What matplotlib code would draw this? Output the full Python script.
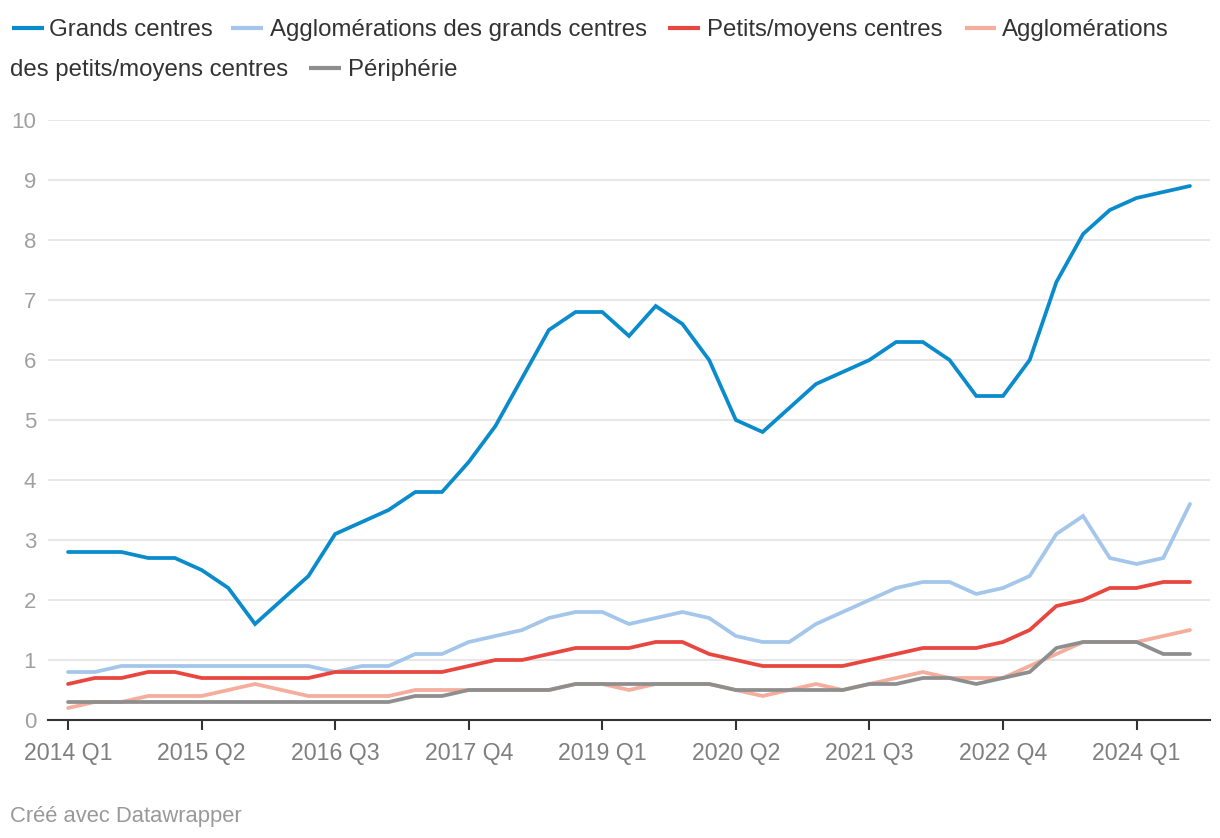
#!/usr/bin/env python3
"""
Line chart: quarterly shares by commune type (Datawrapper style), 2014 Q1 - 2024 Q3.
"""

import matplotlib
matplotlib.use('Agg')
import matplotlib.pyplot as plt
from matplotlib.lines import Line2D

plt.rcParams['font.family'] = ['Liberation Sans', 'DejaVu Sans']

# data, one value per quarter starting 2014 Q1
grands_centres = [2.8, 2.8, 2.8, 2.7, 2.7, 2.5, 2.2, 1.6, 2.0, 2.4, 3.1, 3.3, 3.5, 3.8, 3.8,
                  4.3, 4.9, 5.7, 6.5, 6.8, 6.8, 6.4, 6.9, 6.6, 6.0, 5.0, 4.8, 5.2, 5.6, 5.8,
                  6.0, 6.3, 6.3, 6.0, 5.4, 5.4, 6.0, 7.3, 8.1, 8.5, 8.7, 8.8, 8.9]
agglo_grands = [0.8, 0.8, 0.9, 0.9, 0.9, 0.9, 0.9, 0.9, 0.9, 0.9, 0.8, 0.9, 0.9, 1.1, 1.1,
                1.3, 1.4, 1.5, 1.7, 1.8, 1.8, 1.6, 1.7, 1.8, 1.7, 1.4, 1.3, 1.3, 1.6, 1.8,
                2.0, 2.2, 2.3, 2.3, 2.1, 2.2, 2.4, 3.1, 3.4, 2.7, 2.6, 2.7, 3.6]
petits_moyens = [0.6, 0.7, 0.7, 0.8, 0.8, 0.7, 0.7, 0.7, 0.7, 0.7, 0.8, 0.8, 0.8, 0.8, 0.8,
                 0.9, 1.0, 1.0, 1.1, 1.2, 1.2, 1.2, 1.3, 1.3, 1.1, 1.0, 0.9, 0.9, 0.9, 0.9,
                 1.0, 1.1, 1.2, 1.2, 1.2, 1.3, 1.5, 1.9, 2.0, 2.2, 2.2, 2.3, 2.3]
agglo_petits = [0.2, 0.3, 0.3, 0.4, 0.4, 0.4, 0.5, 0.6, 0.5, 0.4, 0.4, 0.4, 0.4, 0.5, 0.5,
                0.5, 0.5, 0.5, 0.5, 0.6, 0.6, 0.5, 0.6, 0.6, 0.6, 0.5, 0.4, 0.5, 0.6, 0.5,
                0.6, 0.7, 0.8, 0.7, 0.7, 0.7, 0.9, 1.1, 1.3, 1.3, 1.3, 1.4, 1.5]
peripherie = [0.3, 0.3, 0.3, 0.3, 0.3, 0.3, 0.3, 0.3, 0.3, 0.3, 0.3, 0.3, 0.3, 0.4, 0.4,
              0.5, 0.5, 0.5, 0.5, 0.6, 0.6, 0.6, 0.6, 0.6, 0.6, 0.5, 0.5, 0.5, 0.5, 0.5,
              0.6, 0.6, 0.7, 0.7, 0.6, 0.7, 0.8, 1.2, 1.3, 1.3, 1.3, 1.1, 1.1]

tick_positions = [0, 5, 10, 15, 20, 25, 30, 35, 40]
tick_labels = ['2014 Q1', '2015 Q2', '2016 Q3', '2017 Q4', '2019 Q1',
               '2020 Q2', '2021 Q3', '2022 Q4', '2024 Q1']

series = [
    ('Grands centres', grands_centres, '#0a8bcc'),
    ('Agglomérations des grands centres', agglo_grands, '#a3c6ea'),
    ('Petits/moyens centres', petits_moyens, '#e8473f'),
    ('Agglomérations des petits/moyens centres', agglo_petits, '#f5ad9c'),
    ('Périphérie', peripherie, '#8e8e8e'),
]

W, H = 1220, 838
fig = plt.figure(figsize=(W / 100, H / 100), dpi=100)
ax = fig.add_axes([48 / W, 1 - 720 / H, (1210 - 48) / W, 600 / H])

x = list(range(len(grands_centres)))
for name, vals, col in series:
    ax.plot(x, vals, color=col, lw=2.7, solid_joinstyle='miter', solid_capstyle='round')

ax.set_xlim(-0.75, len(x) - 1 + 0.75)
ax.set_ylim(0, 10)
ax.set_yticks(range(0, 11))
ax.yaxis.grid(True, color='#e3e3e3', lw=1.2)
ax.set_axisbelow(True)
ax.tick_params(axis='y', length=0, pad=8.5, labelsize=16, labelcolor='#a0a0a0')
ax.set_xticks(tick_positions)
ax.set_xticklabels(tick_labels)
ax.tick_params(axis='x', length=7, width=1.5, color='#333333', pad=9,
               labelsize=16.7, labelcolor='#7f7f7f')
for s in ['top', 'right', 'left']:
    ax.spines[s].set_visible(False)
ax.spines['bottom'].set_color('#333333')
ax.spines['bottom'].set_linewidth(1.5)


# legend drawn by hand to copy the wrapped Datawrapper layout
def px(xp):
    return xp / W


def py(yp):
    return 1 - yp / H


legend_items = [
    (12, 44, 28, '#0a8bcc', 49, 'Grands centres'),
    (231, 263, 28, '#a3c6ea', 270, 'Agglomérations des grands centres'),
    (668, 700, 28, '#e8473f', 707, 'Petits/moyens centres'),
    (965, 996, 28, '#f5ad9c', 1002, 'Agglomérations'),
    (309, 341, 68, '#8e8e8e', 348, 'Périphérie'),
]
for x0, x1, yl, col, xt, label in legend_items:
    fig.add_artist(Line2D([px(x0), px(x1)], [py(yl), py(yl)], color=col, lw=3,
                          solid_capstyle='butt', transform=fig.transFigure))
    fig.text(px(xt), py(yl + 8), label, fontsize=17.3, color='#333333', va='baseline')
fig.text(px(10), py(68 + 8), 'des petits/moyens centres', fontsize=17.3,
         color='#333333', va='baseline')

fig.text(px(10), py(822), 'Créé avec Datawrapper', fontsize=15.8, color='#999999',
         va='baseline')

fig.savefig('out.png', dpi=100, facecolor='white')
